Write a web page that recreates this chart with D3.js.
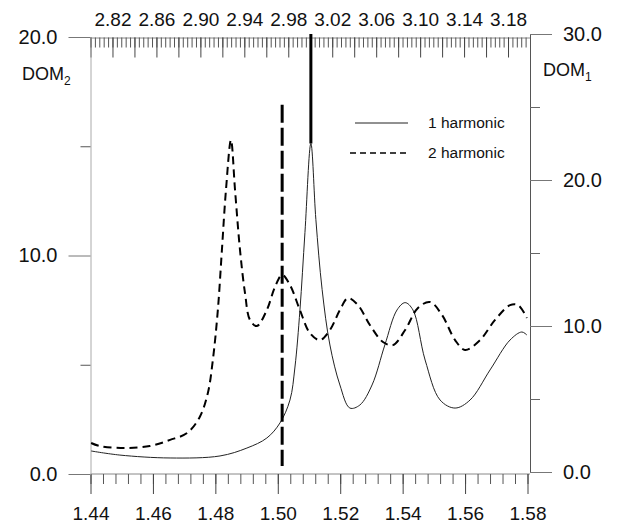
<!DOCTYPE html>
<html>
<head>
<meta charset="utf-8">
<script src="https://cdn.jsdelivr.net/npm/d3@7"></script>
<style>
  body { margin: 0; background: #fff; }
  svg text { font-family: "Liberation Sans", Arial, sans-serif; fill: #111; }
</style>
</head>
<body>
<div id="chart"></div>
<script>
// 1 harmonic (right axis, DOM1)
const harm1X = [1.4402, 1.4494, 1.4655, 1.4815, 1.4901, 1.4965, 1.5007, 1.5039, 1.5055, 1.5071, 1.5087, 1.5106,
  1.5122, 1.5142, 1.5167, 1.5199, 1.5231, 1.5263, 1.5302, 1.5343, 1.5382, 1.5408, 1.5433, 1.5472, 1.552,
  1.5568, 1.5616, 1.568, 1.5744, 1.5782, 1.5798];
const harm1Y = [1.44, 1.16, 0.96, 1.1, 1.64, 2.33, 3.36, 4.93, 7.19, 11.1, 16.4, 22.5,
  17.3, 12.5, 8.7, 5.96, 4.38, 4.59, 5.96, 8.7, 11.1, 11.6, 11.1, 7.67, 4.93,
  4.38, 4.93, 6.99, 9.04, 9.59, 9.38];

// 2 harmonic (left axis, DOM2)
const harm2X = [1.4402, 1.443, 1.451, 1.459, 1.4655, 1.471, 1.475, 1.4776, 1.4792, 1.4808, 1.4821, 1.4834, 1.485,
  1.4863, 1.4879, 1.4895, 1.4911, 1.4933, 1.4965, 1.4991, 1.5014, 1.5039, 1.5071, 1.5103, 1.5135, 1.5167,
  1.5199, 1.5225, 1.5257, 1.5295, 1.5337, 1.5369, 1.5408, 1.5449, 1.5488, 1.5526, 1.5568, 1.56, 1.5648,
  1.5696, 1.5744, 1.577, 1.5798];
const harm2Y = [1.42, 1.28, 1.19, 1.28, 1.56, 1.88, 2.61, 3.71, 5.22, 7.51, 10.25, 13.0, 15.29,
  13.0, 10.25, 8.28, 7.05, 6.77, 7.51, 8.56, 9.11, 8.65, 7.5, 6.45, 6.13, 6.59,
  7.5, 8.05, 7.73, 6.82, 6.04, 5.9, 6.59, 7.6, 7.87, 7.28, 6.13, 5.68, 6.13,
  7.05, 7.73, 7.73, 7.14];

// vertical markers
const peakMarkX = 1.5106;   // solid, from top down to 1 harmonic peak
const peakMarkTop = 30;
const peakMarkBottom = 22.5;
const dashMarkX = 1.5014;   // dashed, DOM2 units
const dashMarkTop = 16.9;
const dashMarkBottom = 0.37;

const bottomTicks = [1.44, 1.46, 1.48, 1.50, 1.52, 1.54, 1.56, 1.58];
const topTicks = [2.82, 2.86, 2.90, 2.94, 2.98, 3.02, 3.06, 3.10, 3.14, 3.18];
const leftTicks = [0, 10, 20];
const rightTicks = [0, 10, 20, 30];
const legendLabels = ["1 harmonic", "2 harmonic"];

const W = 625, H = 527;
const m = { left: 90.5, right: 530, top: 37.5, bottom: 474 };

const svg = d3.select("#chart").append("svg")
  .attr("width", W).attr("height", H);

const x = d3.scaleLinear().domain([1.44, 1.58]).range([m.left, 527.5]);
const xTop = d3.scaleLinear().domain([2.80, 3.20]).range([m.left, m.right]);
const yL = d3.scaleLinear().domain([0, 20]).range([474, 37]);
const yR = d3.scaleLinear().domain([0, 30]).range([472, 34]);

// bottom axis
const minorBottom = d3.range(1.44, 1.5801, 0.004);
svg.append("g").attr("transform", `translate(0,${m.bottom})`)
  .call(d3.axisBottom(x).tickValues(minorBottom).tickSize(10).tickFormat(""))
  .call(g => g.select(".domain").attr("stroke", "#888").attr("d", `M${m.left},0H${m.right}`))
  .call(g => g.selectAll(".tick line").attr("stroke", "#555"));
svg.append("g").attr("transform", `translate(0,${m.bottom})`)
  .call(d3.axisBottom(x).tickValues(bottomTicks).tickSize(20).tickPadding(13).tickFormat(d3.format(".2f")))
  .call(g => g.select(".domain").remove())
  .call(g => g.selectAll(".tick line").attr("stroke", "#444"))
  .call(g => g.selectAll("text").style("font-size", "19px"));

// top axis
const minorTop = d3.range(2.80, 3.2001, 0.004);
const majorTop = d3.range(2.80, 3.2001, 0.02);
svg.append("g").attr("transform", `translate(0,${m.top})`)
  .call(d3.axisBottom(xTop).tickValues(minorTop).tickSize(10).tickFormat(""))
  .call(g => g.select(".domain").attr("stroke", "#888"))
  .call(g => g.selectAll(".tick line").attr("stroke", "#555"));
svg.append("g").attr("transform", `translate(0,${m.top})`)
  .call(d3.axisBottom(xTop).tickValues(majorTop).tickSize(20).tickFormat(""))
  .call(g => g.select(".domain").remove())
  .call(g => g.selectAll(".tick line").attr("stroke", "#444"));
svg.append("g").attr("transform", `translate(0,${m.top})`)
  .call(d3.axisTop(xTop).tickValues(topTicks).tickSize(0).tickPadding(12).tickFormat(d3.format(".2f")))
  .call(g => g.select(".domain").remove())
  .call(g => g.selectAll("text").style("font-size", "19px"));

// left axis
svg.append("g").attr("transform", `translate(${m.left},0)`)
  .call(d3.axisLeft(yL).tickValues([5, 15]).tickSize(10).tickFormat(""))
  .call(g => g.select(".domain").attr("stroke", "#aaa"))
  .call(g => g.selectAll(".tick line").attr("stroke", "#555"));
svg.append("g").attr("transform", `translate(${m.left},0)`)
  .call(d3.axisLeft(yL).tickValues(leftTicks).tickSize(22).tickPadding(11).tickFormat(d3.format(".1f")))
  .call(g => g.select(".domain").remove())
  .call(g => g.selectAll(".tick line").attr("stroke", "#777"))
  .call(g => g.selectAll("text").style("font-size", "20px"));

// right axis
svg.append("g").attr("transform", `translate(${m.right},0)`)
  .call(d3.axisRight(yR).tickValues([5, 15, 25]).tickSize(10).tickFormat(""))
  .call(g => g.select(".domain").attr("stroke", "#555"))
  .call(g => g.selectAll(".tick line").attr("stroke", "#666"));
svg.append("g").attr("transform", `translate(${m.right},0)`)
  .call(d3.axisRight(yR).tickValues(rightTicks).tickSize(22).tickPadding(11).tickFormat(d3.format(".1f")))
  .call(g => g.select(".domain").remove())
  .call(g => g.selectAll(".tick line").attr("stroke", "#777"))
  .call(g => g.selectAll("text").style("font-size", "20px"));

// axis titles
const t2 = svg.append("text").attr("x", 22).attr("y", 80).style("font-size", "18px").text("DOM");
t2.append("tspan").attr("dy", 5).style("font-size", "12px").text("2");
const t1 = svg.append("text").attr("x", 543).attr("y", 76).style("font-size", "18px").text("DOM");
t1.append("tspan").attr("dy", 5).style("font-size", "12px").text("1");

// curves
const line1 = d3.line().x(d => x(d[0])).y(d => yR(d[1])).curve(d3.curveCatmullRom);
const line2 = d3.line().x(d => x(d[0])).y(d => yL(d[1])).curve(d3.curveCatmullRom);

svg.append("path")
  .datum(d3.zip(harm1X, harm1Y))
  .attr("fill", "none").attr("stroke", "#222").attr("stroke-width", 1)
  .attr("d", line1);

svg.append("path")
  .datum(d3.zip(harm2X, harm2Y))
  .attr("fill", "none").attr("stroke", "#000").attr("stroke-width", 2)
  .attr("stroke-dasharray", "8,5")
  .attr("d", line2);

// markers
svg.append("line")
  .attr("x1", x(peakMarkX)).attr("x2", x(peakMarkX))
  .attr("y1", yR(peakMarkTop)).attr("y2", yR(peakMarkBottom))
  .attr("stroke", "#000").attr("stroke-width", 3);

svg.append("line")
  .attr("x1", x(dashMarkX)).attr("x2", x(dashMarkX))
  .attr("y1", yL(dashMarkTop)).attr("y2", yL(dashMarkBottom))
  .attr("stroke", "#000").attr("stroke-width", 3)
  .attr("stroke-dasharray", "18,5");

// legend
const legend = svg.append("g").attr("transform", "translate(355,123)");
legend.append("line").attr("x1", 0).attr("x2", 53).attr("y1", 0).attr("y2", 0)
  .attr("stroke", "#222").attr("stroke-width", 1);
legend.append("line").attr("x1", -5).attr("x2", 53).attr("y1", 30).attr("y2", 30)
  .attr("stroke", "#000").attr("stroke-width", 1.5).attr("stroke-dasharray", "6,4");
legend.selectAll("text.lbl").data(legendLabels).enter().append("text")
  .attr("class", "lbl")
  .attr("x", 73).attr("y", (d, i) => i * 30 + 5)
  .style("font-size", "15.5px")
  .text(d => d);
</script>
</body>
</html>
